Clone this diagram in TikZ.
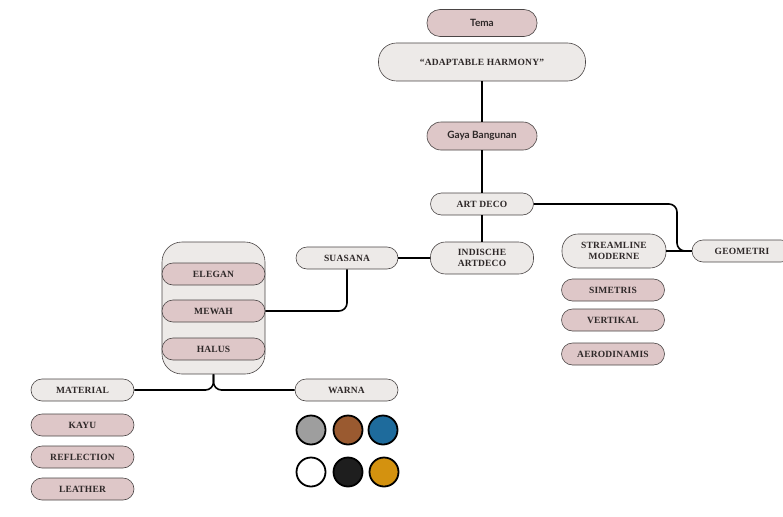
\documentclass[tikz,border=0pt]{standalone}
\usepackage{fontspec}
\setmainfont{Liberation Serif}
\newfontfamily\capsfnt[LetterSpace=2]{Liberation Serif}
\newfontfamily\sansfnt{Lato}
\usetikzlibrary{positioning}
\definecolor{pinkfill}{HTML}{DEC7C8}
\definecolor{greyfill}{HTML}{EDEAE8}
\definecolor{edgecol}{HTML}{4A4545}
\definecolor{txtcol}{HTML}{2E2828}
\definecolor{cgray}{HTML}{9E9E9E}
\definecolor{cbrown}{HTML}{9A5A30}
\definecolor{cblue}{HTML}{1E6B9C}
\definecolor{cblack}{HTML}{1E1E1E}
\definecolor{cgold}{HTML}{D4920F}
\tikzset{
  pill/.style={draw=edgecol, line width=0.6pt, rounded corners=11pt, minimum width=103pt, minimum height=22pt, inner sep=0pt, align=center, text=txtcol, font=\capsfnt\fontsize{9.5}{11}\selectfont\bfseries},
  greypill/.style={pill, fill=greyfill},
  pinkpill/.style={pill, fill=pinkfill},
  sanspill/.style={pill, fill=pinkfill, minimum width=110pt, minimum height=27pt, rounded corners=13pt, font=\sansfnt\fontsize{10}{11}\selectfont\bfseries},
  conn/.style={draw=black, line width=1.6pt, rounded corners=8pt},
  dot/.style={circle, draw=black, line width=1.8pt, minimum size=29pt, inner sep=0pt}
}
\begin{document}
\begin{tikzpicture}[x=1pt,y=-1pt]
\useasboundingbox (0,0) rectangle (783,516);
% container
\node[draw=edgecol, line width=0.6pt, fill=greyfill, rounded corners=20pt, minimum width=103pt, minimum height=132pt, inner sep=0pt] (cont) at (213.5,308) {};
% top
\node[sanspill] (tema) at (482,23) {Tema};
\node[greypill, minimum width=207pt, minimum height=38pt, rounded corners=18pt] (adapt) at (482,62) {“ADAPTABLE HARMONY”};
\node[sanspill, minimum height=28pt, rounded corners=14pt] (gaya) at (482,136) {Gaya Bangunan};
\node[greypill] (artdeco) at (482,204) {ART DECO};
\node[greypill, minimum height=32pt, rounded corners=15pt] (indische) at (482,258) {INDISCHE\\ARTDECO};
\node[greypill, minimum width=102pt] (suasana) at (347,258) {SUASANA};
\node[greypill, minimum width=104pt, minimum height=34pt, rounded corners=16pt] (stream) at (614,251) {STREAMLINE\\MODERNE};
\node[greypill, minimum width=100pt] (geo) at (742,251) {GEOMETRI};
\node[pinkpill] (sim) at (613,290) {SIMETRIS};
\node[pinkpill] (vert) at (613,320) {VERTIKAL};
\node[pinkpill] (aero) at (613,354) {AERODINAMIS};
% container items
\node[pinkpill] (elegan) at (213.5,274) {ELEGAN};
\node[pinkpill] (mewah) at (213.5,311) {MEWAH};
\node[pinkpill] (halus) at (213.5,349) {HALUS};
% bottom left
\node[greypill] (material) at (82.5,390) {MATERIAL};
\node[pinkpill] (kayu) at (82.5,425) {KAYU};
\node[pinkpill] (refl) at (82.5,457) {REFLECTION};
\node[pinkpill] (leather) at (82.5,489) {LEATHER};
\node[greypill] (warna) at (346.5,390) {WARNA};
% colour dots
\node[dot, fill=cgray] (c1) at (311,430) {};
\node[dot, fill=cbrown] (c2) at (348,430) {};
\node[dot, fill=cblue] (c3) at (383,430) {};
\node[dot, fill=white] (c4) at (311,472) {};
\node[dot, fill=cblack] (c5) at (348,472) {};
\node[dot, fill=cgold] (c6) at (384,472) {};
% connectors
\coordinate (jg) at (677,251);
\draw[conn] (adapt.south) -- (gaya.north);
\draw[conn] (gaya.south) -- (artdeco.north);
\draw[conn] (artdeco.south) -- (indische.north);
\draw[conn] (artdeco.east) -| (jg) -- (geo.west);
\draw[conn] (stream.east) -- (geo.west);
\draw[conn] (indische.west) -- (suasana.east);
\draw[conn] (suasana.south) |- (mewah.east);
\draw[conn] (cont.south) |- (material.east);
\draw[conn] (cont.south) |- (warna.west);
\end{tikzpicture}
\end{document}
